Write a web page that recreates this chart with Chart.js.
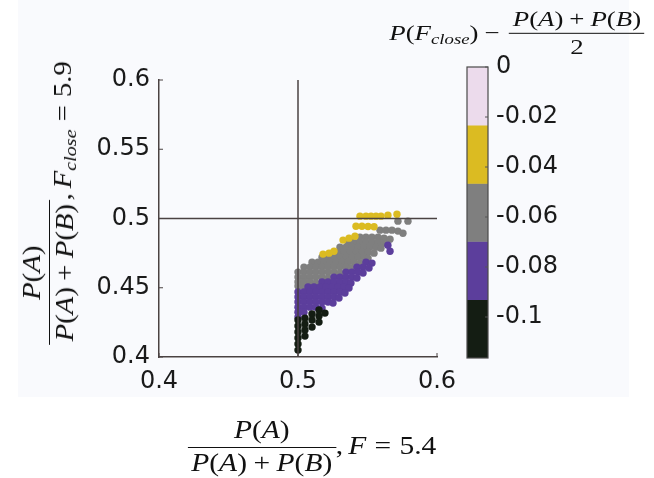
<!DOCTYPE html>
<html>
<head>
<meta charset="utf-8">
<script src="https://cdn.jsdelivr.net/npm/chart.js@4"></script>
<style>
  html, body { margin: 0; padding: 0; background: #fff; }
  body { width: 654px; height: 478px; position: relative; overflow: hidden; }
  #bg { position: absolute; left: 18px; top: 0; width: 611px; height: 397px; background: #f9fafd; }
  #main { position: absolute; left: 0; top: 0; }
  #cbar { position: absolute; left: 440px; top: 40px; }
  .math { position: absolute; font-family: 'Liberation Serif', serif; color: #111; display: flex;
          align-items: center; white-space: nowrap; line-height: 1.1; }
  .math i { font-style: italic; }
  .frac { display: inline-flex; flex-direction: column; align-items: stretch; }
  .num { padding: 0 3px 3px; text-align: center; }
  .den { border-top: 1.3px solid #111; padding: 1px 3px 0; text-align: center; }
  .op { margin: 0 0.22em; }
  .eq { margin: 0 0.28em; }
  .sp { display: inline-block; width: 0.17em; }
  .sub { font-size: 0.7em; font-style: italic; position: relative; top: 0.28em; }
  #xlab { left: 312px; top: 446px; font-size: 25px; transform: translate(-50%, -50%) scaleX(1.18); }
  #ylab { left: 48px; top: 203px; font-size: 25px; transform: translate(-50%, -50%) rotate(-90deg) scaleX(1.15); }
  #ylab .rest { position: relative; top: 15px; }
  #cbt { left: 517px; top: 33px; font-size: 22px; transform: translate(-50%, -50%) scaleX(1.22); }
  #cbt .num { padding-bottom: 2px; }
  #cbt .rest { margin-right: 3px; }
</style>
</head>
<body>
<div id="bg"></div>
<canvas id="main" width="654" height="478"></canvas>
<canvas id="cbar" width="210" height="340"></canvas>

<div id="xlab" class="math">
  <span class="frac"><span class="num"><i>P</i>(<i>A</i>)</span><span class="den"><i>P</i>(<i>A</i>)<span class="op">+</span><i>P</i>(<i>B</i>)</span></span><span class="rest">,<span class="sp"></span><i>F</i><span class="eq">=</span>5.4</span>
</div>
<div id="ylab" class="math">
  <span class="frac"><span class="num"><i>P</i>(<i>A</i>)</span><span class="den"><i>P</i>(<i>A</i>)<span class="op">+</span><i>P</i>(<i>B</i>)</span></span><span class="rest">,<span class="sp"></span><i>F</i><span class="sub">close</span><span class="eq">=</span>5.9</span>
</div>
<div id="cbt" class="math">
  <span class="rest"><i>P</i>(<i>F</i><span class="sub">close</span>)<span class="op">−</span></span><span class="frac"><span class="num"><i>P</i>(<i>A</i>)<span class="op">+</span><i>P</i>(<i>B</i>)</span><span class="den">2</span></span>
</div>

<script>
// ticks
const xTicks = [0.4, 0.5, 0.6];
const xTickLabels = ['0.4', '0.5', '0.6'];
const yTicks = [0.4, 0.45, 0.5, 0.55, 0.6];
const yTickLabels = ['0.4', '0.45', '0.5', '0.55', '0.6'];

// colour bar
const cbTicks = [-0.1, -0.08, -0.06, -0.04, -0.02, 0];
const cbTickLabels = ['-0.1', '-0.08', '-0.06', '-0.04', '-0.02', '0'];
const cbEdges = [0, -0.0233, -0.0466, -0.0698, -0.0931, -0.1164];
const cbColors = ['#ecdbec', '#dbbb22', '#7f7f7f', '#5c3e9c', '#141d13'];

// reference lines
const refX = 0.5;
const refY = 0.5;

// points, [x, y], grouped by colour band
const yellowPts = [
  [0.5446, 0.5017], [0.5489, 0.5017], [0.5525, 0.5017], [0.5561, 0.5017], [0.5597, 0.5017], [0.5647, 0.5024], [0.5712, 0.5031],
  [0.5417, 0.4944], [0.5460, 0.4944], [0.5504, 0.4942], [0.5547, 0.4940],
  [0.5324, 0.4844], [0.5367, 0.4858], [0.5410, 0.4872],
  [0.5180, 0.4743], [0.5223, 0.4750], [0.5259, 0.4764]
];
const grayPts = [
  [0.5719, 0.4981], [0.5791, 0.4981],
  [0.5590, 0.4916], [0.5633, 0.4916], [0.5676, 0.4916], [0.5719, 0.4909], [0.5755, 0.4894],
  [0.5446, 0.4865], [0.5489, 0.4865], [0.5532, 0.4865], [0.5576, 0.4865], [0.5619, 0.4858], [0.5662, 0.4851],
  [0.5360, 0.4829], [0.5403, 0.4829], [0.5446, 0.4829], [0.5489, 0.4829], [0.5532, 0.4829], [0.5576, 0.4829], [0.5619, 0.4822],
  [0.5302, 0.4793], [0.5345, 0.4793], [0.5388, 0.4793], [0.5432, 0.4793], [0.5475, 0.4793], [0.5518, 0.4793], [0.5561, 0.4793], [0.5597, 0.4786],
  [0.5288, 0.4757], [0.5331, 0.4757], [0.5374, 0.4757], [0.5417, 0.4757], [0.5460, 0.4757], [0.5504, 0.4757], [0.5547, 0.4750],
  [0.5173, 0.4721], [0.5216, 0.4721], [0.5259, 0.4721], [0.5302, 0.4721], [0.5345, 0.4721], [0.5388, 0.4721], [0.5432, 0.4721], [0.5475, 0.4721], [0.5504, 0.4714],
  [0.5101, 0.4685], [0.5144, 0.4685], [0.5187, 0.4685], [0.5230, 0.4685], [0.5273, 0.4685], [0.5317, 0.4685], [0.5360, 0.4685], [0.5403, 0.4685], [0.5446, 0.4678],
  [0.5043, 0.4649], [0.5086, 0.4649], [0.5129, 0.4649], [0.5173, 0.4649], [0.5216, 0.4649], [0.5259, 0.4649], [0.5302, 0.4649], [0.5345, 0.4649], [0.5381, 0.4642],
  [0.5000, 0.4613], [0.5043, 0.4613], [0.5086, 0.4613], [0.5129, 0.4613], [0.5173, 0.4613], [0.5216, 0.4613], [0.5259, 0.4613], [0.5302, 0.4606],
  [0.5000, 0.4577], [0.5043, 0.4577], [0.5086, 0.4577], [0.5129, 0.4577], [0.5173, 0.4577], [0.5216, 0.4570],
  [0.5000, 0.4541], [0.5043, 0.4541], [0.5086, 0.4541], [0.5129, 0.4534],
  [0.5000, 0.4512], [0.5036, 0.4512]
];
const purplePts = [
  [0.5647, 0.4807], [0.5662, 0.4764],
  [0.5489, 0.4685], [0.5532, 0.4678],
  [0.5424, 0.4649], [0.5468, 0.4649], [0.5511, 0.4642],
  [0.5345, 0.4613], [0.5388, 0.4613], [0.5432, 0.4613], [0.5468, 0.4606],
  [0.5259, 0.4577], [0.5302, 0.4577], [0.5345, 0.4577], [0.5388, 0.4577], [0.5424, 0.4570],
  [0.5173, 0.4541], [0.5216, 0.4541], [0.5259, 0.4541], [0.5302, 0.4541], [0.5345, 0.4541], [0.5381, 0.4534],
  [0.5072, 0.4505], [0.5115, 0.4505], [0.5158, 0.4505], [0.5201, 0.4505], [0.5245, 0.4505], [0.5288, 0.4505], [0.5331, 0.4505], [0.5367, 0.4498],
  [0.5000, 0.4469], [0.5043, 0.4469], [0.5086, 0.4469], [0.5129, 0.4469], [0.5173, 0.4469], [0.5216, 0.4469], [0.5259, 0.4469], [0.5302, 0.4469], [0.5338, 0.4462],
  [0.5000, 0.4433], [0.5043, 0.4433], [0.5086, 0.4433], [0.5129, 0.4433], [0.5173, 0.4433], [0.5216, 0.4433], [0.5259, 0.4433], [0.5295, 0.4426],
  [0.5000, 0.4397], [0.5043, 0.4397], [0.5086, 0.4397], [0.5129, 0.4397], [0.5173, 0.4397], [0.5216, 0.4397], [0.5252, 0.4390],
  [0.5000, 0.4360], [0.5043, 0.4360], [0.5086, 0.4360], [0.5129, 0.4360], [0.5173, 0.4353],
  [0.5000, 0.4324], [0.5043, 0.4324],
  [0.5000, 0.4288]
];
const blackPts = [
  [0.5000, 0.4267], [0.5000, 0.4224], [0.5000, 0.4180], [0.5000, 0.4137], [0.5000, 0.4094], [0.5000, 0.4050],
  [0.5050, 0.4281], [0.5050, 0.4238], [0.5050, 0.4195], [0.5050, 0.4151],
  [0.5101, 0.4310], [0.5101, 0.4267], [0.5101, 0.4216],
  [0.5151, 0.4339], [0.5151, 0.4296], [0.5151, 0.4252],
  [0.5194, 0.4317]
];

const axisColor = '#4a4242';
const tickFont = { family: 'DejaVu Sans', size: 24 };

function toXY(pts) {
  return pts.map(p => ({ x: p[0], y: p[1] }));
}

function dots(pts, color) {
  return {
    data: toXY(pts),
    backgroundColor: color,
    borderWidth: 0,
    pointRadius: 3.7
  };
}

function refLine(data) {
  return {
    type: 'line',
    data,
    showLine: true,
    borderColor: axisColor,
    borderWidth: 1.5,
    pointRadius: 0,
    fill: false
  };
}

// small tick marks pointing into the plot
const innerTicks = {
  id: 'innerTicks',
  afterDraw(chart, args, opts) {
    const { ctx, chartArea: a, scales } = chart;
    const len = opts.len;
    ctx.save();
    ctx.strokeStyle = opts.color;
    ctx.lineWidth = 1;
    ctx.beginPath();
    if (opts.x) {
      scales.x.ticks.forEach(t => {
        const px = scales.x.getPixelForValue(t.value);
        ctx.moveTo(px, a.bottom);
        ctx.lineTo(px, a.bottom - len);
      });
    }
    scales.y.ticks.forEach(t => {
      const py = scales.y.getPixelForValue(t.value);
      if (opts.side === 'left') {
        ctx.moveTo(a.left, py);
        ctx.lineTo(a.left + len, py);
      } else {
        ctx.moveTo(a.right, py);
        ctx.lineTo(a.right - len, py);
      }
    });
    ctx.stroke();
    ctx.restore();
  }
};

const frame = {
  id: 'frame',
  afterDatasetsDraw(chart) {
    const { ctx, chartArea: a } = chart;
    ctx.save();
    ctx.strokeStyle = '#4a4a4a';
    ctx.lineWidth = 1.2;
    ctx.strokeRect(a.left, a.top, a.width, a.height);
    ctx.restore();
  }
};

// main scatter
new Chart(document.getElementById('main'), {
  type: 'scatter',
  data: {
    datasets: [
      refLine([{ x: refX, y: 0.4 }, { x: refX, y: 0.6 }]),
      refLine([{ x: 0.4, y: refY }, { x: 0.6, y: refY }]),
      dots(yellowPts, cbColors[1]),
      dots(blackPts, cbColors[4]),
      dots(purplePts, cbColors[3]),
      dots(grayPts, cbColors[2])
    ]
  },
  options: {
    responsive: false,
    animation: false,
    events: [],
    layout: { padding: { left: 0, top: 80, right: 217, bottom: 81 } },
    plugins: {
      legend: { display: false },
      tooltip: { enabled: false },
      innerTicks: { x: true, side: 'left', len: 4, color: axisColor }
    },
    scales: {
      x: {
        type: 'linear',
        min: 0.4,
        max: 0.6,
        grid: { display: false, drawTicks: false },
        border: { display: true, color: axisColor, width: 1.5 },
        afterBuildTicks: s => { s.ticks = xTicks.map(v => ({ value: v })); },
        afterFit: s => { s.height = 40; s.paddingLeft = 0; s.paddingRight = 0; },
        ticks: {
          padding: 10,
          color: '#1a1a1a',
          font: tickFont,
          maxRotation: 0,
          callback: (v, i) => xTickLabels[i]
        }
      },
      y: {
        type: 'linear',
        min: 0.4,
        max: 0.6,
        grid: { display: false, drawTicks: false },
        border: { display: true, color: axisColor, width: 1.5 },
        afterBuildTicks: s => { s.ticks = yTicks.map(v => ({ value: v })); },
        afterFit: s => { s.width = 159; s.paddingTop = 0; s.paddingBottom = 0; },
        ticks: {
          padding: 9,
          color: '#1a1a1a',
          font: tickFont,
          callback: (v, i) => yTickLabels[i]
        }
      }
    }
  },
  plugins: [innerTicks]
});

// colour bar
new Chart(document.getElementById('cbar'), {
  type: 'bar',
  data: {
    labels: ['band'],
    datasets: cbColors.map((c, i) => ({
      data: [[cbEdges[i + 1], cbEdges[i]]],
      backgroundColor: c,
      borderWidth: 0,
      barPercentage: 1,
      categoryPercentage: 1,
      grouped: false
    }))
  },
  options: {
    responsive: false,
    animation: false,
    events: [],
    layout: { padding: { left: 27, top: 27, right: 0, bottom: 22 } },
    plugins: {
      legend: { display: false },
      tooltip: { enabled: false },
      innerTicks: { x: false, side: 'right', len: 3, color: '#555' }
    },
    scales: {
      x: { display: false },
      y: {
        position: 'right',
        min: cbEdges[cbEdges.length - 1],
        max: 0,
        grid: { display: false, drawTicks: false },
        border: { display: false },
        afterBuildTicks: s => { s.ticks = cbTicks.map(v => ({ value: v })); },
        afterFit: s => { s.width = 162; s.paddingTop = 0; s.paddingBottom = 0; },
        ticks: {
          padding: 8,
          color: '#1a1a1a',
          font: tickFont,
          callback: (v, i) => cbTickLabels[i]
        }
      }
    }
  },
  plugins: [innerTicks, frame]
});
</script>
</body>
</html>
